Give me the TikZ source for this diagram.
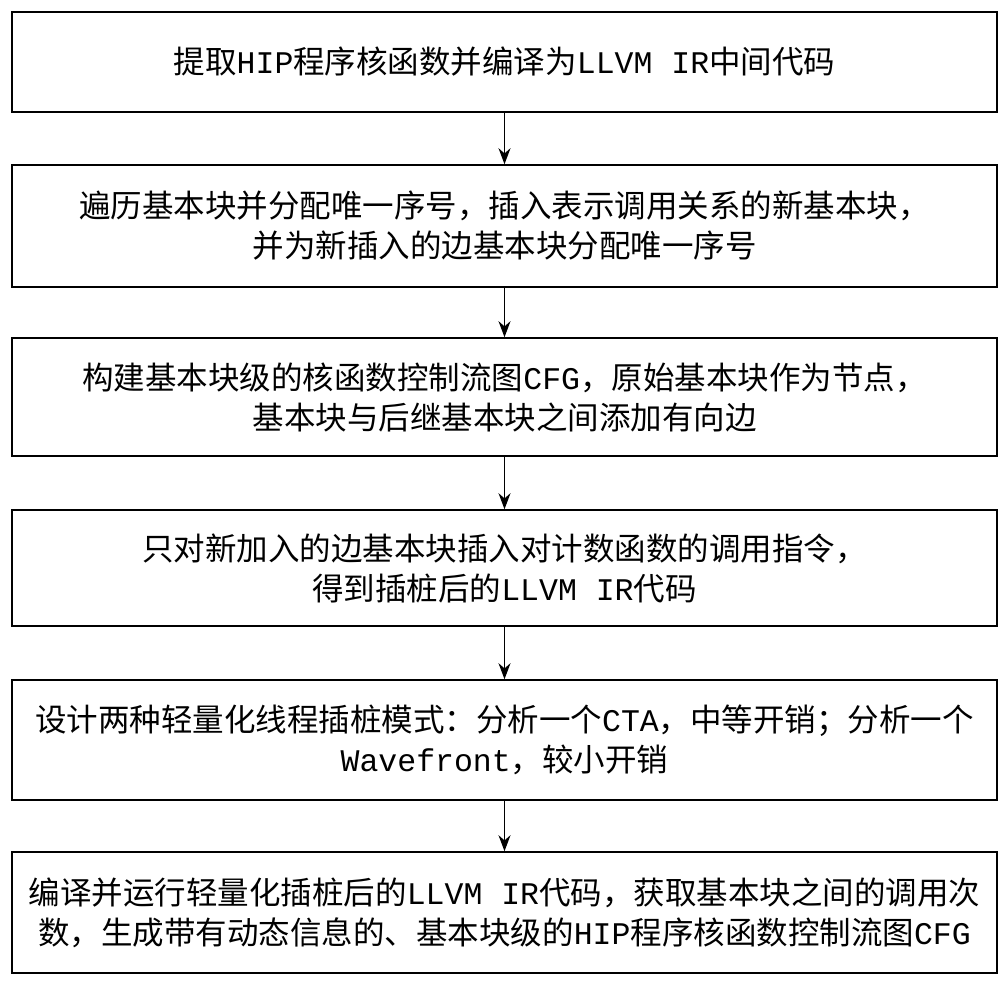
\documentclass[tikz,border=0pt]{standalone}
\usepackage{fontspec}
\setmainfont{Noto Sans CJK SC}
\newfontfamily\lm{Liberation Mono}
\usetikzlibrary{arrows.meta}
\begin{document}
\begin{tikzpicture}[x=1pt,y=-1pt,
  box/.style={draw,line width=1.6pt,minimum width=985pt,align=center,font=\fontsize{31.5}{40}\selectfont,inner sep=0pt},
  arr/.style={-{Stealth[length=16pt,width=12pt]},line width=1.4pt}]
\useasboundingbox (0,0) rectangle (1000,985);
\node[box,minimum height=100pt] (b1) at (504.5,62) {提取{\lm HIP}程序核函数并编译为{\lm LLVM IR}中间代码};
\node[box,minimum height=122pt] (b2) at (504.5,226) {遍历基本块并分配唯一序号，插入表示调用关系的新基本块，\\并为新插入的边基本块分配唯一序号};
\node[box,minimum height=118pt] (b3) at (504.5,397) {构建基本块级的核函数控制流图{\lm CFG}，原始基本块作为节点，\\基本块与后继基本块之间添加有向边};
\node[box,minimum height=116pt] (b4) at (504.5,568) {只对新加入的边基本块插入对计数函数的调用指令，\\得到插桩后的{\lm LLVM IR}代码};
\node[box,minimum height=120pt] (b5) at (504.5,740) {设计两种轻量化线程插桩模式：分析一个{\lm CTA}，中等开销；分析一个\\{\lm Wavefront}，较小开销};
\node[box,minimum height=121pt] (b6) at (504.5,912.5) {编译并运行轻量化插桩后的{\lm LLVM IR}代码，获取基本块之间的调用次\\数，生成带有动态信息的、基本块级的{\lm HIP}程序核函数控制流图{\lm CFG}};
\draw[arr] (b1) -- (b2);
\draw[arr] (b2) -- (b3);
\draw[arr] (b3) -- (b4);
\draw[arr] (b4) -- (b5);
\draw[arr] (b5) -- (b6);
\end{tikzpicture}
\end{document}
